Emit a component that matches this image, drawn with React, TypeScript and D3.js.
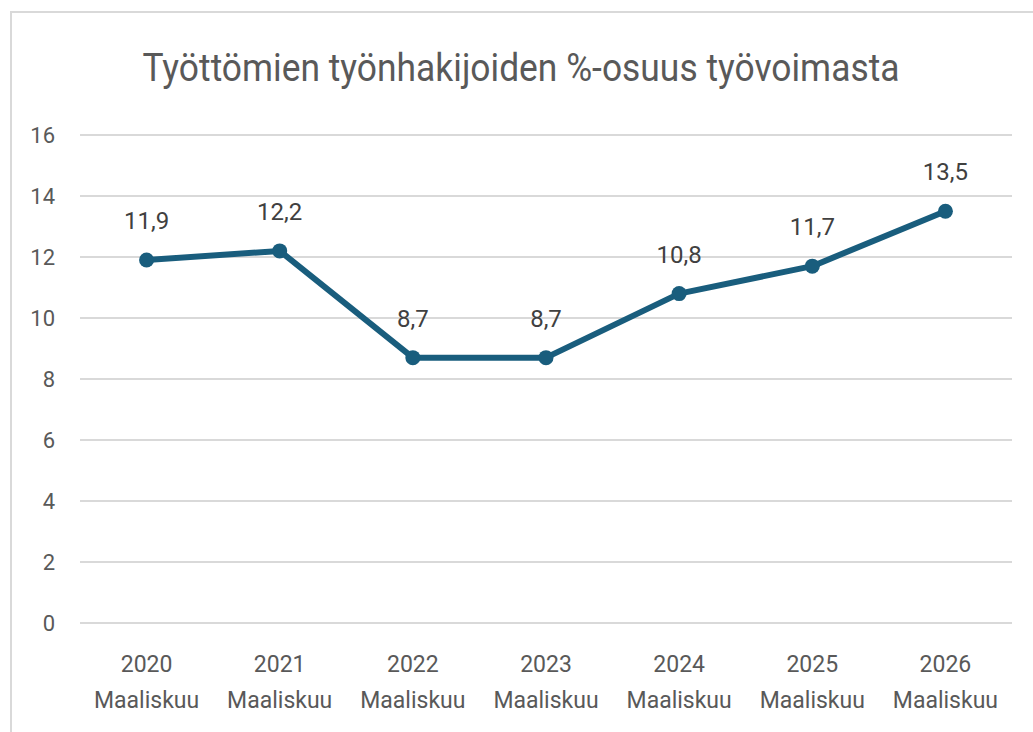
import React, { useRef, useEffect } from "react";
import * as d3 from "d3";

const years = ["2020", "2021", "2022", "2023", "2024", "2025", "2026"];
const month = "Maaliskuu";
const values = [11.9, 12.2, 8.7, 8.7, 10.8, 11.7, 13.5];
const yTicks = [0, 2, 4, 6, 8, 10, 12, 14, 16];
const title = "Työttömien työnhakijoiden %-osuus työvoimasta";

const App = () => {
  const ref = useRef<SVGSVGElement>(null);

  useEffect(() => {
    const svg = d3.select(ref.current);
    svg.selectAll("*").remove();

    const W = 1033;
    const H = 732;
    const left = 80;
    const right = 1012;
    const top = 135;
    const bottom = 623;
    const textColor = "#595959";
    const font = "Roboto, 'Noto Sans', sans-serif";

    svg.attr("width", W).attr("height", H);

    // chart frame (cropped at right and bottom)
    svg
      .append("rect")
      .attr("x", 11)
      .attr("y", 12)
      .attr("width", W)
      .attr("height", H)
      .attr("fill", "#fff")
      .attr("stroke", "#d9d9d9")
      .attr("stroke-width", 2);

    svg
      .append("text")
      .attr("x", 521)
      .attr("y", 81)
      .attr("text-anchor", "middle")
      .attr("font-family", font)
      .attr("font-size", 39)
      .attr("fill", textColor)
      .attr("textLength", 757)
      .attr("lengthAdjust", "spacingAndGlyphs")
      .text(title);

    const x = d3.scaleBand().domain(years).range([left, right]);
    const y = d3.scaleLinear().domain([0, 16]).range([bottom, top]);

    // grid
    svg
      .append("g")
      .selectAll("line")
      .data(yTicks)
      .enter()
      .append("line")
      .attr("x1", left)
      .attr("x2", right)
      .attr("y1", (d) => y(d))
      .attr("y2", (d) => y(d))
      .attr("stroke", "#d9d9d9")
      .attr("stroke-width", 2);

    // y labels
    svg
      .append("g")
      .selectAll("text")
      .data(yTicks)
      .enter()
      .append("text")
      .attr("x", 55)
      .attr("y", (d) => y(d))
      .attr("dy", "0.35em")
      .attr("text-anchor", "end")
      .attr("font-family", font)
      .attr("font-size", 22)
      .attr("fill", textColor)
      .text((d) => d);

    // x labels
    const xl = svg
      .append("g")
      .selectAll("text")
      .data(years)
      .enter()
      .append("text")
      .attr("text-anchor", "middle")
      .attr("font-family", font)
      .attr("font-size", 23)
      .attr("fill", textColor);
    xl.append("tspan")
      .attr("x", (d) => x(d)! + x.bandwidth() / 2)
      .attr("y", 672)
      .text((d) => d);
    xl.append("tspan")
      .attr("x", (d) => x(d)! + x.bandwidth() / 2)
      .attr("y", 708)
      .text(month);

    const pts = years.map((yr, i) => ({ yr, v: values[i] }));
    const cx = (d) => x(d.yr)! + x.bandwidth() / 2;

    const line = d3
      .line<{ yr: string; v: number }>()
      .x(cx)
      .y((d) => y(d.v));

    svg
      .append("path")
      .datum(pts)
      .attr("d", line)
      .attr("fill", "none")
      .attr("stroke", "#195d7d")
      .attr("stroke-width", 6)
      .attr("stroke-linejoin", "round");

    svg
      .append("g")
      .selectAll("circle")
      .data(pts)
      .enter()
      .append("circle")
      .attr("cx", cx)
      .attr("cy", (d) => y(d.v))
      .attr("r", 7.5)
      .attr("fill", "#195d7d");

    svg
      .append("g")
      .selectAll("text")
      .data(pts)
      .enter()
      .append("text")
      .attr("x", cx)
      .attr("y", (d) => y(d.v) - 31)
      .attr("text-anchor", "middle")
      .attr("font-family", font)
      .attr("font-size", 24)
      .attr("fill", "#404040")
      .text((d) => d3.format(".1f")(d.v).replace(".", ","));
  }, []);

  return (
    <svg
      ref={ref}
      style={{ display: "block", position: "absolute", left: 0, top: 0 }}
    />
  );
};

export default App;
